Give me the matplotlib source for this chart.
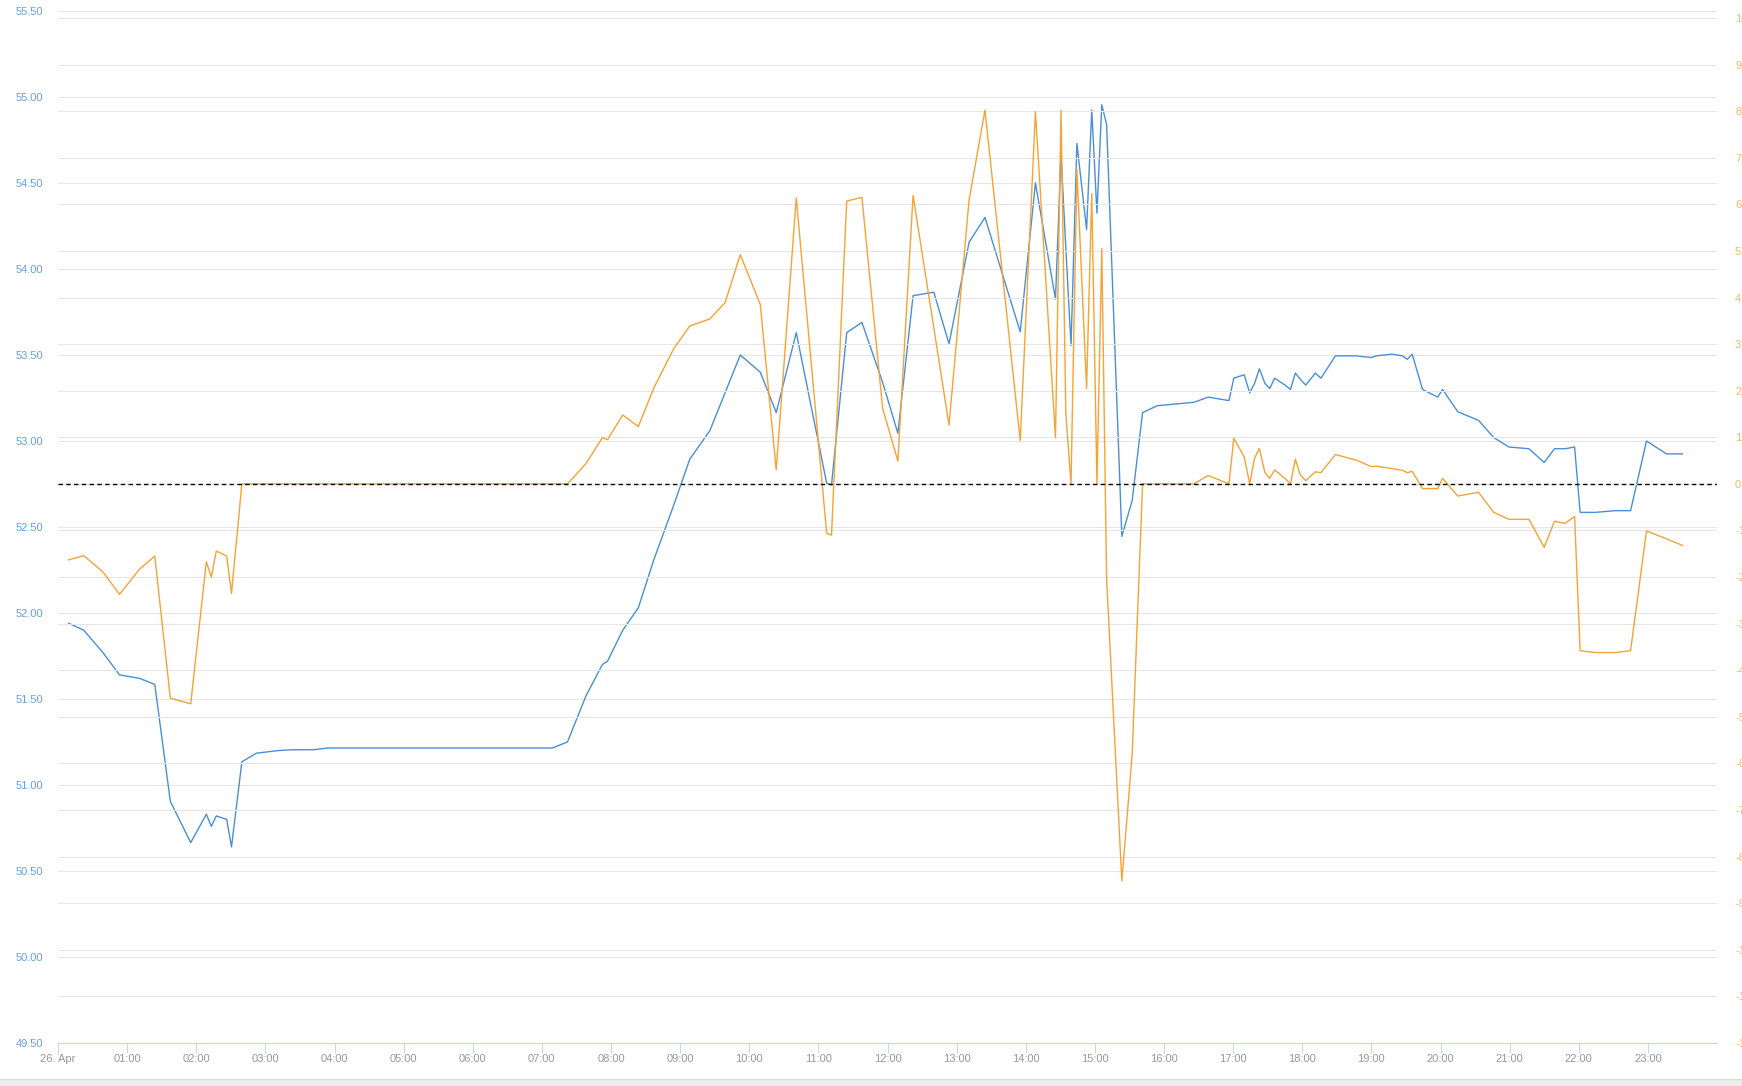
import numpy as np
import matplotlib.pyplot as plt
from matplotlib.patches import Rectangle

# time of day in hours, 26 Apr
hours = [0.155, 0.373, 0.65, 0.89, 1.18, 1.40, 1.625, 1.92, 2.146, 2.218,
         2.29, 2.44, 2.51, 2.66, 2.87, 3.18, 3.39, 3.70, 3.90, 7.15,
         7.37, 7.64, 7.875, 7.95, 8.17, 8.395, 8.62, 8.91, 9.14, 9.43,
         9.65, 9.87, 10.16, 10.39, 10.68, 11.12, 11.19, 11.41, 11.63, 11.93,
         12.15, 12.37, 12.67, 12.89, 13.18, 13.41, 13.92, 14.14, 14.43, 14.51,
         14.58, 14.655, 14.74, 14.88, 14.955, 15.03, 15.10, 15.17, 15.39, 15.54,
         15.69, 15.90, 16.43, 16.64, 16.94, 17.01, 17.16, 17.24, 17.31, 17.38,
         17.46, 17.53, 17.60, 17.75, 17.83, 17.90, 17.97, 18.05, 18.19, 18.27,
         18.48, 18.78, 19.00, 19.07, 19.30, 19.45, 19.52, 19.59, 19.74, 19.96,
         20.03, 20.25, 20.55, 20.77, 20.99, 21.28, 21.50, 21.65, 21.80, 21.94,
         22.02, 22.24, 22.53, 22.75, 22.98, 23.27, 23.50]

# left axis series (blue)
blue = [51.94, 51.90, 51.77, 51.64, 51.62, 51.585, 50.905, 50.665, 50.83, 50.76,
        50.82, 50.80, 50.64, 51.135, 51.185, 51.20, 51.205, 51.205, 51.215, 51.215,
        51.25, 51.52, 51.70, 51.72, 51.90, 52.03, 52.31, 52.63, 52.895, 53.06,
        53.28, 53.50, 53.40, 53.165, 53.63, 52.755, 52.745, 53.63, 53.69, 53.34,
        53.045, 53.845, 53.865, 53.565, 54.155, 54.30, 53.635, 54.50, 53.825, 54.665,
        54.12, 53.555, 54.73, 54.23, 54.925, 54.325, 54.955, 54.84, 52.445, 52.655,
        53.165, 53.205, 53.225, 53.255, 53.235, 53.365, 53.385, 53.28, 53.335, 53.42,
        53.335, 53.305, 53.365, 53.325, 53.30, 53.395, 53.36, 53.325, 53.395, 53.365,
        53.495, 53.495, 53.485, 53.495, 53.505, 53.495, 53.475, 53.505, 53.30, 53.255,
        53.30, 53.17, 53.12, 53.02, 52.965, 52.955, 52.875, 52.955, 52.955, 52.965,
        52.585, 52.585, 52.595, 52.595, 53.00, 52.925, 52.925]

# right axis series (orange)
orange = [-1.63, -1.54, -1.89, -2.37, -1.83, -1.55, -4.60, -4.72, -1.67, -2.00,
          -1.44, -1.55, -2.35, 0.0, 0.0, 0.0, 0.0, 0.0, 0.0, 0.0,
          0.0, 0.44, 0.99, 0.95, 1.48, 1.23, 2.06, 2.91, 3.39, 3.54,
          3.89, 4.92, 3.85, 0.30, 6.14, -1.06, -1.10, 6.07, 6.15, 1.62,
          0.49, 6.19, 3.35, 1.26, 6.09, 8.02, 0.93, 7.99, 0.99, 8.02,
          1.51, 0.0, 6.75, 2.05, 6.23, 0.0, 5.05, -2.05, -8.52, -5.80,
          0.0, 0.0, 0.0, 0.18, 0.0, 0.98, 0.58, 0.0, 0.55, 0.76,
          0.24, 0.12, 0.30, 0.12, 0.0, 0.53, 0.20, 0.07, 0.26, 0.24,
          0.63, 0.51, 0.37, 0.38, 0.33, 0.29, 0.24, 0.27, -0.10, -0.10,
          0.12, -0.26, -0.18, -0.61, -0.76, -0.76, -1.36, -0.80, -0.85, -0.70,
          -3.58, -3.62, -3.62, -3.58, -1.01, -1.18, -1.32]

tick_hours = list(range(24))
tick_labels = ['26. Apr'] + ['%02d:00' % h for h in range(1, 24)]
left_ticks = np.arange(49.5, 55.51, 0.5)
right_ticks = np.arange(-12, 11, 1)

plt.rcParams['font.family'] = ['Liberation Sans', 'DejaVu Sans']

W, H = 1742, 1086
fig = plt.figure(figsize=(W / 100, H / 100), dpi=100)
fig.patch.set_facecolor('white')
fig.patches.append(Rectangle((0, 0), 1, 7 / H, transform=fig.transFigure,
                             facecolor='#ededed', edgecolor='none'))
fig.lines.append(plt.Line2D([0, 1], [7 / H, 7 / H], transform=fig.transFigure,
                            color='#dadada', lw=0.8))

ax = fig.add_axes([58 / W, 43 / H, 1659 / W, 1032 / H])
ax2 = ax.twinx()

ax.plot(hours, blue, color='#4a8fd6', lw=1.0, zorder=3)
ax2.plot(hours, orange, color='#f5a334', lw=1.0, zorder=3)
ax2.axhline(0, color='black', lw=1.0, dashes=(3.2, 2.4), zorder=5)

ax.set_xlim(0, 24)
ax.set_ylim(49.5, 55.5)
ax2.set_ylim(-12, 10.15)

ax.set_xticks(tick_hours)
ax.set_xticklabels(tick_labels)
ax.set_yticks(left_ticks)
ax.set_yticklabels(['%.2f' % v for v in left_ticks])
ax2.set_yticks(right_ticks)
ax2.set_yticklabels(['%d' % v for v in right_ticks])

ax.grid(axis='y', color='#e6e6e6', lw=0.8)
ax2.grid(axis='y', color='#e6e6e6', lw=0.8)
ax.set_axisbelow(True)

for s in ['left', 'right', 'top']:
    ax.spines[s].set_visible(False)
for s in ax2.spines.values():
    s.set_visible(False)
ax.spines['bottom'].set_color('#ccd6eb')
ax.spines['bottom'].set_linewidth(0.8)

ax.tick_params(axis='x', length=7, width=0.8, color='#ccd6eb', pad=1,
               labelsize=8, labelcolor='#999999')
ax.tick_params(axis='y', length=0, pad=10.8, labelsize=8, labelcolor='#69a0d9')
ax2.tick_params(axis='y', length=0, pad=13, labelsize=8, labelcolor='#f7b766')

fig.savefig('out.png', dpi=100)
